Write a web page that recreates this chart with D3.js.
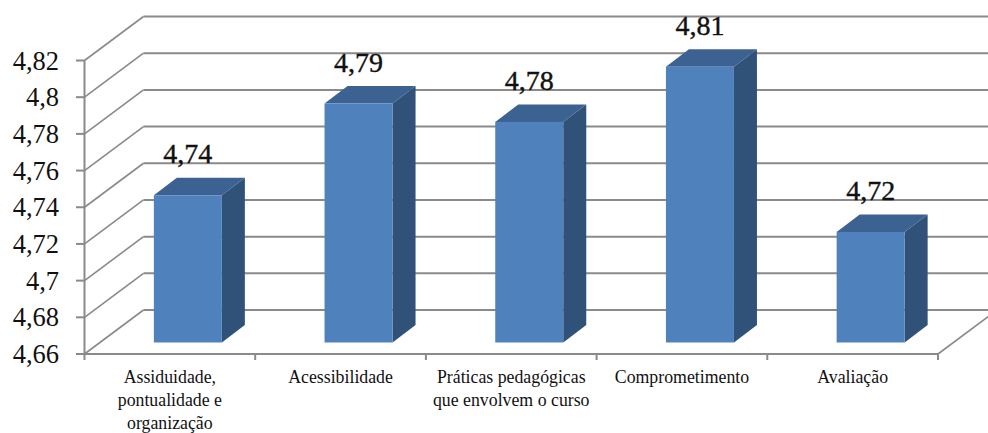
<!DOCTYPE html>
<html><head><meta charset="utf-8">
<script src="https://cdn.jsdelivr.net/npm/d3@7"></script>
<style>html,body{margin:0;padding:0;background:#fff}svg{display:block}text{font-family:"Liberation Serif",serif;fill:#111}</style>
</head><body><svg id="c" width="988" height="433"></svg>
<script>
const categories=[["Assiduidade,","pontualidade e","organização"],["Acessibilidade"],["Práticas pedagógicas","que envolvem o curso"],["Comprometimento"],["Avaliação"]];
const values=[4.74,4.79,4.78,4.81,4.72];
const tickValues=[4.66,4.68,4.70,4.72,4.74,4.76,4.78,4.80,4.82];
const tickLabels=["4,66","4,68","4,7","4,72","4,74","4,76","4,78","4,8","4,82"];
const valueLabels=["4,74","4,79","4,78","4,81","4,72"];

const svg=d3.select("#c");
const y=d3.scaleLinear().domain([4.66,4.82]).range([354,60.5]);
const x=d3.scaleBand().domain(d3.range(categories.length)).range([84.5,938]);
const wall={dx:59,dy:-44}, gridCol="#8a8a8a";
const barW=68, depth={dx:23,dy:-17.5}, barLift=12, barShift=18;

// back wall + side wall gridlines
const g=svg.append("g").attr("fill","none").attr("stroke",gridCol);
tickValues.forEach(v=>{
  g.append("path").attr("stroke-width",2)
   .attr("d",`M${84.5+wall.dx},${y(v)+wall.dy}H1000`);
  g.append("path").attr("stroke-width",1.6)
   .attr("d",`M84.5,${y(v)}L${84.5+wall.dx},${y(v)+wall.dy}`);
});
// floor right edge
g.append("path").attr("stroke-width",1.6).attr("d",`M938,354L${938+wall.dx},${354+wall.dy}`);

// axes
const ax=svg.append("g").attr("fill","none").attr("stroke",gridCol).attr("stroke-width",2);
ax.append("path").attr("d",`M84.5,${y(4.82)}V354H938`);
tickValues.forEach(v=>ax.append("path").attr("d",`M76,${y(v)}H84.5`));
d3.range(categories.length+1).forEach(i=>{
  const px=i<categories.length?x(i):x.range()[1];
  ax.append("path").attr("d",`M${px},354V360`);
});
svg.append("g").selectAll("text").data(tickValues).join("text")
  .attr("x",59).attr("y",v=>y(v)+9).attr("text-anchor","end")
  .attr("font-size",26.5).text((v,i)=>tickLabels[i]);

// bars
const bars=svg.append("g").selectAll("g").data(values).join("g");
const bx=(d,i)=>x(i)+x.bandwidth()/2+barShift-barW/2;
const tx=d=>y(d)-barLift, base=y(4.66)-barLift+0.5;
bars.append("path").attr("fill","#305178")
  .attr("d",(d,i)=>{const r=bx(d,i)+barW;return `M${r},${tx(d)}l${depth.dx},${depth.dy}V${base+depth.dy}L${r},${base}Z`});
bars.append("path").attr("fill","#3c6291")
  .attr("d",(d,i)=>{const l=bx(d,i);return `M${l},${tx(d)}l${depth.dx},${depth.dy}h${barW}l${-depth.dx},${-depth.dy}Z`});
bars.append("rect").attr("fill","#4f81bd")
  .attr("x",bx).attr("y",tx).attr("width",barW).attr("height",d=>base-tx(d));
bars.append("text").attr("x",(d,i)=>bx(d,i)+barW/2).attr("y",d=>tx(d)-32)
  .attr("text-anchor","middle").attr("font-size",28).attr("stroke","#111").attr("stroke-width",0.4)
  .text((d,i)=>valueLabels[i]);

// category labels
const cat=svg.append("g").selectAll("text").data(categories).join("text")
  .attr("text-anchor","middle").attr("font-size",17.8);
cat.each(function(lines,i){
  d3.select(this).selectAll("tspan").data(lines).join("tspan")
    .attr("x",x(i)+x.bandwidth()/2).attr("y",(l,j)=>383+j*23).text(l=>l);
});
</script></body></html>
